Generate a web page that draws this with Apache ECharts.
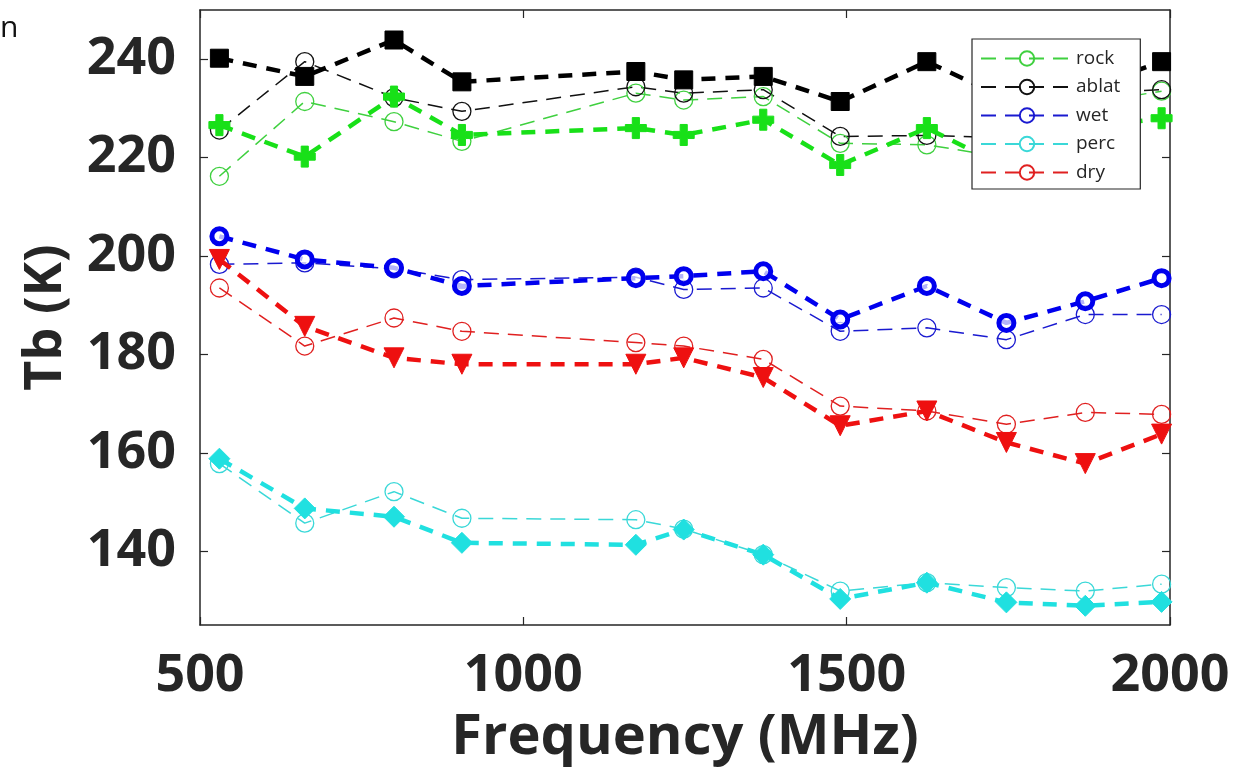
<!DOCTYPE html>
<html>
<head>
<meta charset="utf-8">
<script src="https://cdn.jsdelivr.net/npm/echarts@6/dist/echarts.min.js"></script>
<style>
html,body{margin:0;padding:0;background:#fff;}
#chart{width:1249px;height:781px;}
</style>
</head>
<body>
<div id="chart"></div>
<script>
// Frequencies (MHz)
const freq = [530, 662, 800, 905, 1174, 1248, 1371, 1490, 1624, 1747, 1869, 1987];
// Thin dashed lines with open circles (legend entries)
const rockModel  = [216.2, 231.4, 227.3, 223.3, 233.1, 231.7, 232.4, 222.9, 222.6, 220.0, 231.0, 233.5];
const ablatModel = [225.6, 239.5, 232.2, 229.4, 234.4, 233.1, 233.8, 224.3, 224.5, 224.0, 233.0, 233.8];
const wetModel   = [198.3, 198.6, 197.4, 195.2, 195.7, 193.2, 193.5, 184.7, 185.4, 183.0, 188.1, 188.1];
const percModel  = [157.8, 145.7, 152.1, 146.7, 146.4, 144.5, 139.3, 131.9, 133.6, 132.6, 131.9, 133.3];
const dryModel   = [193.5, 181.7, 187.4, 184.7, 182.4, 181.7, 179.0, 169.5, 168.5, 165.8, 168.2, 167.8];
// Thick dashed lines with filled markers
const rockObs  = [226.6, 220.2, 232.4, 224.6, 226.0, 224.6, 227.7, 218.5, 226.0, 218.0, 226.0, 228.0];
const ablatObs = [240.2, 236.5, 243.9, 235.4, 237.5, 235.8, 236.5, 231.4, 239.5, 232.0, 234.0, 239.5];
const wetObs   = [204.0, 199.3, 197.6, 193.9, 195.5, 195.9, 196.9, 187.1, 193.9, 186.4, 190.8, 195.5];
const percObs  = [158.8, 148.7, 147.0, 141.7, 141.3, 144.4, 139.3, 130.3, 133.6, 129.6, 128.9, 129.7];
const dryObs   = [199.3, 185.7, 179.3, 178.0, 178.0, 179.3, 175.3, 165.5, 168.5, 162.1, 157.8, 163.8];
// Axis ticks
const xTicks = [500, 1000, 1500, 2000];
const yTicks = [140, 160, 180, 200, 220, 240];
const legendNames = ['rock', 'ablat', 'wet', 'perc', 'dry'];

const pts = v => freq.map((f, i) => [f, v[i]]);
const TXT = '#262626';
const FONT = '"Open Sans", "DejaVu Sans", sans-serif';

function thin(name, vals, color) {
  return {
    name: name, type: 'line', data: pts(vals), z: 2,
    symbol: 'circle', symbolSize: 18,
    lineStyle: { color: color, width: 1.5, type: [15, 9] },
    itemStyle: { color: 'rgba(255,255,255,0)', borderColor: color, borderWidth: 1.3 }
  };
}
function thick(name, vals, color, symbol, size, filled) {
  return {
    name: name, type: 'line', data: pts(vals), z: 3,
    symbol: symbol, symbolSize: size,
    lineStyle: { color: color, width: 4.5, type: [14, 10] },
    itemStyle: filled ? { color: color, borderColor: color, borderWidth: 1 }
                      : { color: 'rgba(255,255,255,0.7)', borderColor: color, borderWidth: 5 }
  };
}
const plusPath = 'path://M3.3,0h3.4v3.3h3.3v3.4h-3.3v3.3h-3.4v-3.3h-3.3v-3.4h3.3z';
const triDown = 'path://M0,0H10L5,9Z';

const series = [
  thin('rock', rockModel, '#3fd03f'),
  thin('ablat', ablatModel, '#111111'),
  thin('wet', wetModel, '#1a1ad0'),
  thin('perc', percModel, '#3ad8d8'),
  thin('dry', dryModel, '#e02020'),
  thick('rock obs', rockObs, '#18e018', plusPath, 21, true),
  thick('ablat obs', ablatObs, '#000000', 'rect', 18, true),
  thick('wet obs', wetObs, '#0000ee', 'circle', 15, false),
  thick('perc obs', percObs, '#20e0e0', 'diamond', 21, true),
  thick('dry obs', dryObs, '#ee1010', triDown, 20, true)
];

const axisLine = { show: true, onZero: false, lineStyle: { color: TXT, width: 1.5 } };
const tick = { show: true, inside: true, length: 8, lineStyle: { color: TXT, width: 1.2 } };

const chart = echarts.init(document.getElementById('chart'));
chart.setOption({
  animation: false,
  backgroundColor: '#fff',
  grid: { left: 200, right: 79, top: 10, bottom: 156, containLabel: false, outerBoundsMode: 'none' },
  xAxis: [{
    type: 'value', min: 500, max: 2000, interval: 500, position: 'bottom',
    name: 'Frequency (MHz)', nameLocation: 'middle', nameGap: 85,
    nameTextStyle: { fontFamily: FONT, fontWeight: 'bold', fontSize: 56, color: TXT },
    axisLine: axisLine, axisTick: tick, splitLine: { show: false },
    axisLabel: { fontFamily: FONT, fontWeight: 'bold', fontSize: 52, color: TXT, margin: 25,
                 formatter: v => String(v) }
  }, {
    type: 'value', min: 500, max: 2000, interval: 500, position: 'top',
    axisLine: axisLine, axisTick: tick, splitLine: { show: false }, axisLabel: { show: false }
  }],
  yAxis: [{
    type: 'value', min: 125, max: 250, position: 'left',
    name: 'Tb (K)', nameLocation: 'middle', nameGap: 128, nameRotate: 90,
    nameTextStyle: { fontFamily: FONT, fontWeight: 'bold', fontSize: 52, color: TXT },
    axisLine: axisLine, splitLine: { show: false },
    axisTick: Object.assign({ customValues: yTicks }, tick),
    axisLabel: { customValues: yTicks, fontFamily: FONT, fontWeight: 'bold', fontSize: 52, color: TXT, margin: 24 }
  }, {
    type: 'value', min: 125, max: 250, position: 'right',
    axisLine: axisLine, splitLine: { show: false },
    axisTick: Object.assign({ customValues: yTicks }, tick),
    axisLabel: { show: false, customValues: yTicks }
  }],
  legend: {
    data: legendNames, orient: 'vertical', left: 972, top: 39,
    itemWidth: 92, itemHeight: 18, itemGap: 9.5,
    padding: [10, 20, 7, 8],
    backgroundColor: '#fff', borderColor: '#262626', borderWidth: 1.2, borderRadius: 0,
    textStyle: { fontFamily: FONT, fontSize: 19, color: TXT, padding: [0, 0, 0, -2] }
  },
  graphic: [{
    type: 'text', left: 0, top: 13,
    style: { text: 'n', font: '30px "Open Sans", sans-serif', fill: '#111' }
  }],
  series: series
});
</script>
</body>
</html>
